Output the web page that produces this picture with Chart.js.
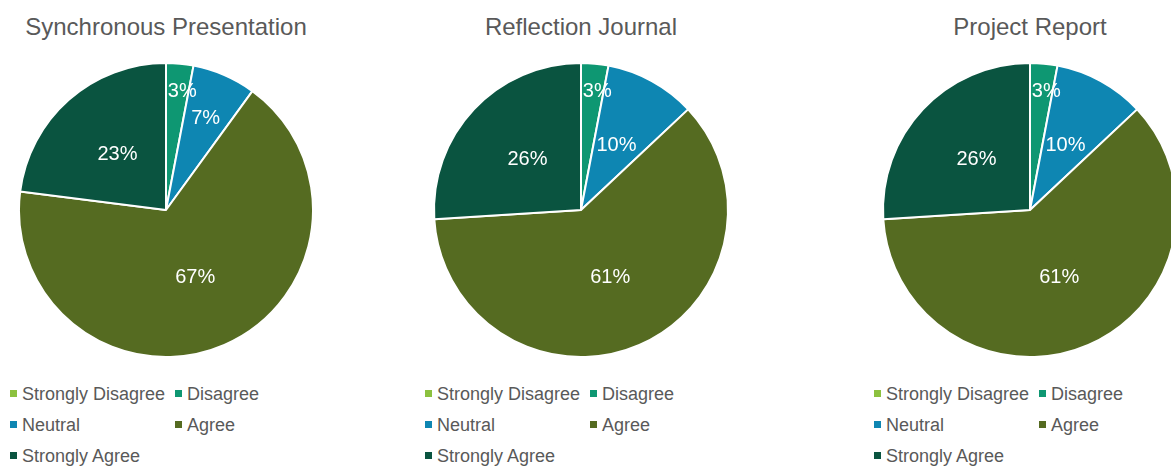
<!DOCTYPE html>
<html>
<head>
	<title>Survey responses</title>
	<script src="https://cdn.jsdelivr.net/npm/chart.js"></script>
	<style>
		body {
			margin: 0;
			width: 1171px;
			height: 466px;
			overflow: hidden;
			background: #ffffff;
			font-family: "Liberation Sans", Arial, sans-serif;
			position: relative;
		}
		.titulo {
			position: absolute;
			top: 13px;
			width: 400px;
			text-align: center;
			font-size: 24px;
			color: #595959;
		}
		.pie {
			position: absolute;
			top: 60px;
			width: 300px;
			height: 300px;
		}
		.item {
			position: absolute;
			font-size: 18px;
			color: #595959;
			white-space: nowrap;
			line-height: 22px;
		}
		.item span {
			display: inline-block;
			width: 7px;
			height: 7px;
			margin-right: 5px;
			vertical-align: 3px;
		}
	</style>
</head>
<body>

	<script>
		// datos de cada gráfico
		var categorias = ['Strongly Disagree', 'Disagree', 'Neutral', 'Agree', 'Strongly Agree'];
		var titulos = ['Synchronous Presentation', 'Reflection Journal', 'Project Report'];
		var presentacion = [0, 3, 7, 67, 23];
		var diario = [0, 3, 10, 61, 26];
		var informe = [0, 3, 10, 61, 26];
		var colores = ['#8cc13f', '#0e9772', '#0e86b2', '#556b21', '#0a5440'];

		var series = [presentacion, diario, informe];
		var centros = [166, 581, 1030];

		// etiquetas de porcentaje dentro de cada porción
		var etiquetas = {
			id: 'etiquetas',
			afterDatasetsDraw: function(chart) {
				var ctx = chart.ctx;
				var meta = chart.getDatasetMeta(0);
				var datos = chart.data.datasets[0].data;
				var total = datos.reduce(function(a, b) { return a + b; }, 0);
				ctx.save();
				ctx.fillStyle = '#ffffff';
				ctx.font = '20px "Liberation Sans", Arial, sans-serif';
				ctx.textAlign = 'center';
				ctx.textBaseline = 'middle';
				meta.data.forEach(function(arc, i) {
					var v = datos[i];
					if (!v) return;
					var p = v / total;
					var f = p < 0.05 ? 0.81 : (p < 0.08 ? 0.68 : 0.5);
					var ang = (arc.startAngle + arc.endAngle) / 2;
					// las porciones pequeñas empujan la etiqueta un poco a la derecha
					var dx = p < 0.05 ? 5 : 0;
					var x = arc.x + Math.cos(ang) * arc.outerRadius * f + dx;
					var y = arc.y + Math.sin(ang) * arc.outerRadius * f;
					ctx.fillText(v + '%', x, y);
				});
				ctx.restore();
			}
		};

		series.forEach(function(valores, n) {
			var cx = centros[n];

			var t = document.createElement('div');
			t.className = 'titulo';
			t.style.left = (cx - 200) + 'px';
			t.textContent = titulos[n];
			document.body.appendChild(t);

			var caja = document.createElement('div');
			caja.className = 'pie';
			caja.style.left = (cx - 150) + 'px';
			var canvas = document.createElement('canvas');
			caja.appendChild(canvas);
			document.body.appendChild(caja);

			new Chart(canvas.getContext('2d'), {
				type: 'pie',
				data: {
					labels: categorias,
					datasets: [{
						data: valores,
						backgroundColor: colores,
						borderColor: '#ffffff',
						borderWidth: 2
					}]
				},
				options: {
					responsive: true,
					maintainAspectRatio: false,
					animation: false,
					layout: { padding: 2 },
					plugins: {
						legend: { display: false },
						tooltip: { enabled: false }
					}
				},
				plugins: [etiquetas]
			});

			// leyenda en dos columnas
			categorias.forEach(function(cat, i) {
				var it = document.createElement('div');
				it.className = 'item';
				it.style.left = (cx - 156 + (i % 2) * 165) + 'px';
				it.style.top = (383 + Math.floor(i / 2) * 31) + 'px';
				var m = document.createElement('span');
				m.style.background = colores[i];
				it.appendChild(m);
				it.appendChild(document.createTextNode(cat));
				document.body.appendChild(it);
			});
		});
	</script>

</body>
</html>
